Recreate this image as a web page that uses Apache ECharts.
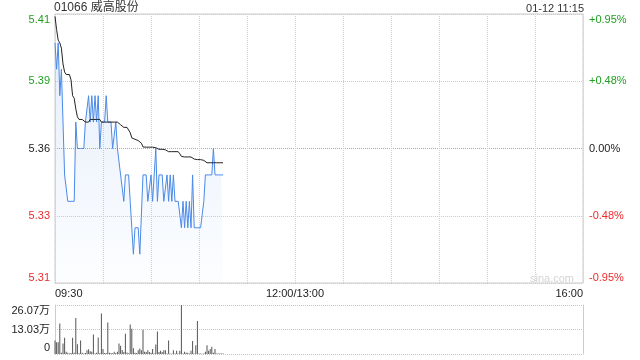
<!DOCTYPE html>
<html><head><meta charset="utf-8">
<script src="https://cdn.jsdelivr.net/npm/echarts@6/dist/echarts.min.js"></script>
<style>html,body{margin:0;padding:0;background:#fff}#c{width:640px;height:360px}</style>
</head><body><div id="c"></div>
<script>
const stockTitle = '01066 威高股份';
const timeStamp = '01-12 11:15';
const watermark = 'sina.com';
const prevClose = 5.36;

// one value per minute from 09:30
const prices = [
  5.40,5.39,5.40,5.38,5.39,5.37,5.35,5.35,5.34,5.34,
  5.34,5.34,5.34,5.37,5.36,5.36,5.36,5.36,5.36,5.37,
  5.37,5.38,5.37,5.38,5.37,5.38,5.37,5.38,5.36,5.37,
  5.37,5.37,5.38,5.37,5.37,5.37,5.36,5.36,5.37,5.36,
  5.36,5.35,5.35,5.34,5.35,5.35,5.35,5.34,5.33,5.32,
  5.33,5.33,5.33,5.32,5.32,5.35,5.35,5.35,5.34,5.34,
  5.35,5.34,5.35,5.36,5.34,5.35,5.35,5.35,5.34,5.34,
  5.35,5.34,5.35,5.34,5.35,5.34,5.34,5.34,5.34,5.33,
  5.34,5.33,5.34,5.33,5.34,5.33,5.35,5.33,5.33,5.33,
  5.33,5.33,5.33,5.34,5.35,5.35,5.35,5.35,5.35,5.36,
  5.35,5.35,5.35,5.35,5.35,5.35
];
const avgPrices = [
  5.410,5.405,5.401,5.400,5.398,5.392,5.389,5.388,5.388,5.388,
  5.386,5.380,5.379,5.375,5.372,5.371,5.371,5.371,5.371,5.370,
  5.370,5.370,5.371,5.371,5.371,5.371,5.371,5.371,5.371,5.370,
  5.370,5.370,5.370,5.370,5.370,5.370,5.370,5.370,5.370,5.370,
  5.370,5.369,5.3685,5.368,5.368,5.368,5.367,5.366,5.364,5.3635,
  5.3635,5.3635,5.363,5.3625,5.362,5.3606,5.3605,5.3605,5.3605,5.3605,
  5.3605,5.3605,5.3605,5.3603,5.360,5.3597,5.3597,5.3597,5.3597,5.3595,
  5.359,5.3588,5.3588,5.3588,5.3588,5.3588,5.3588,5.3588,5.358,5.357,
  5.3568,5.3568,5.3568,5.3568,5.3568,5.3568,5.3565,5.356,5.3558,5.3558,
  5.3558,5.3558,5.3558,5.3555,5.355,5.3546,5.3546,5.3546,5.3546,5.3546,
  5.3546,5.3546,5.3546,5.3546,5.3546,5.3546
];
const volumes = [
  72000,62000,62000,162000,7000,56000,86000,12000,6000,2000,
  5000,86000,6000,192000,52000,4000,72000,6000,2000,5000,
  20000,25000,14000,12000,104000,2000,6000,88000,4000,215000,
  26000,5000,5000,168000,7000,5000,4000,12000,5000,12000,
  56000,44000,21000,10000,108000,8000,4000,157000,135000,30000,
  6000,5000,20000,29000,20000,129000,12000,10000,20000,10000,
  6000,26000,3000,51000,120000,10000,17000,10000,20000,20000,
  3000,72000,3000,1000,20000,3000,17000,3000,17000,260700,
  3000,12000,6000,6000,3000,17000,69000,3000,46000,175000,
  3000,3000,1000,3000,12000,46000,17000,26000,38000,6000,
  26000,3000,3000,3000,3000,3000
];
const priceTickLabels = ['5.31','5.33','5.36','5.39','5.41'];
const pctTickLabels = ['-0.95%','-0.48%','0.00%','+0.48%','+0.95%'];
const volTickLabels = ['0','13.03万','26.07万'];
const volMax = 260700;
const xTickMinutes = [0, 150, 330];
const xTickLabels = ['09:30', '12:00/13:00', '16:00'];

const FONT = 'Arial, "Liberation Sans", "Noto Sans CJK SC", sans-serif';
const GREEN = '#1f9f1f', RED = '#ee2a2a', DARK = '#222';
const tickColors = [RED, RED, DARK, GREEN, GREEN];

const ctx = document.createElement('canvas').getContext('2d');
ctx.font = '11px Arial';
const wFirst = ctx.measureText(xTickLabels[0]).width;
const wLast = ctx.measureText(xTickLabels[2]).width;

const toBp = p => (p / prevClose - 1) * 10000;
const priceData = prices.map((p, i) => [i, toBp(p)]);
const avgData = avgPrices.map((p, i) => [i, toBp(p)]);
const volData = volumes.map((v, i) => [i, v]);

function yRich() {
  const r = {};
  tickColors.forEach((c, i) => {
    r['n' + i] = { color: c, fontSize: 11, fontFamily: FONT };
    r['t' + i] = { color: c, fontSize: 11, fontFamily: FONT, padding: [11, 0, 0, 0] };
    r['b' + i] = { color: c, fontSize: 11, fontFamily: FONT, padding: [0, 0, 11, 0] };
  });
  return r;
}
function yFmt(labels) {
  return function (v) {
    const i = Math.round((v + 95) / 47.5);
    const k = i === 4 ? 't' : (i === 0 ? 'b' : 'n');
    return '{' + k + i + '|' + labels[i] + '}';
  };
}

const chart = echarts.init(document.getElementById('c'), null, { renderer: 'canvas' });
chart.setOption({
  animation: false,
  backgroundColor: '#fff',
  textStyle: { fontFamily: FONT },
  title: [
    { text: stockTitle, left: 54, top: 2, padding: 0,
      textStyle: { fontSize: 12, fontWeight: 'normal', color: '#333', fontFamily: FONT } },
    { text: timeStamp, right: 56, top: 3, padding: 0,
      textStyle: { fontSize: 11, fontWeight: 'normal', color: '#333', fontFamily: FONT } }
  ],
  graphic: [
    { type: 'text', right: 66, top: 273, silent: true,
      style: { text: watermark, fill: '#d4d4d4', fontSize: 11, fontFamily: FONT } }
  ],
  grid: [
    { left: 55, right: 57, top: 14, height: 269, show: true, borderColor: '#ccc', borderWidth: 1 },
    { left: 55, right: 57, top: 305, height: 49 }
  ],
  xAxis: [
    { type: 'value', gridIndex: 0, min: 0, max: 330, interval: 30,
      axisLine: { show: false }, axisTick: { show: false },
      splitLine: { show: true, lineStyle: { color: '#d0d0d0', type: 'dotted', width: 1 } },
      axisLabel: {
        margin: 5, fontSize: 11, color: '#222', fontFamily: FONT,
        formatter: function (v) {
          const i = xTickMinutes.indexOf(v);
          if (i < 0) return '';
          if (i === 0) return '{l|' + xTickLabels[i] + '}';
          if (i === xTickLabels.length - 1) return '{r|' + xTickLabels[i] + '}';
          return '{m|' + xTickLabels[i] + '}';
        },
        rich: {
          l: { fontSize: 11, color: '#222', fontFamily: FONT, padding: [0, 0, 0, wFirst] },
          m: { fontSize: 11, color: '#222', fontFamily: FONT },
          r: { fontSize: 11, color: '#222', fontFamily: FONT, padding: [0, wLast, 0, 0] }
        }
      } },
    { type: 'value', gridIndex: 1, min: 0, max: 330, interval: 30,
      axisLine: { show: false }, axisTick: { show: false },
      splitLine: { show: false }, axisLabel: { show: false } }
  ],
  yAxis: [
    { type: 'value', gridIndex: 0, position: 'left', min: -95, max: 95, interval: 47.5,
      axisLine: { show: false }, axisTick: { show: false },
      splitLine: { show: true, lineStyle: { color: ['#ccc', '#ccc', '#aaa', '#ccc', '#ccc'], type: 'dotted', width: 1 } },
      axisLabel: { margin: 5, formatter: yFmt(priceTickLabels), rich: yRich() } },
    { type: 'value', gridIndex: 0, position: 'right', min: -95, max: 95, interval: 47.5,
      axisLine: { show: false }, axisTick: { show: false }, splitLine: { show: false },
      axisLabel: { margin: 6, formatter: yFmt(pctTickLabels), rich: yRich() } },
    { type: 'value', gridIndex: 1, position: 'left', min: 0, max: volMax, interval: volMax / 2,
      axisLine: { show: true, lineStyle: { color: '#ccc', width: 1 } }, axisTick: { show: false },
      splitLine: { show: true, lineStyle: { color: '#c4c4c4', type: 'dotted', width: 1 } },
      axisLabel: {
        margin: 5, fontSize: 11, color: '#222', fontFamily: FONT,
        formatter: function (v) {
          const i = Math.round(v / (volMax / 2));
          if (i === 2) return '{t|' + volTickLabels[i] + '}';
          if (i === 0) return '{b|' + volTickLabels[i] + '}';
          return '{n|' + volTickLabels[i] + '}';
        },
        rich: {
          t: { fontSize: 11, color: '#222', fontFamily: FONT, padding: [12, 0, 0, 0] },
          n: { fontSize: 11, color: '#222', fontFamily: FONT },
          b: { fontSize: 11, color: '#222', fontFamily: FONT, padding: [0, 0, 12, 0] }
        }
      } },
    { type: 'value', gridIndex: 1, position: 'right', min: 0, max: volMax, interval: volMax / 2,
      axisLine: { show: true, lineStyle: { color: '#ccc', width: 1 } }, axisTick: { show: false },
      splitLine: { show: false }, axisLabel: { show: false } }
  ],
  series: [
    { name: 'price', type: 'line', xAxisIndex: 0, yAxisIndex: 0, data: priceData,
      showSymbol: false, symbol: 'none', silent: true,
      lineStyle: { color: '#4a8ae8', width: 1 },
      areaStyle: { origin: 'start', color: new echarts.graphic.LinearGradient(0, 0, 0, 1, [
        { offset: 0, color: 'rgba(74,138,232,0.20)' },
        { offset: 1, color: 'rgba(74,138,232,0.02)' }
      ]) } },
    { name: 'avg', type: 'line', xAxisIndex: 0, yAxisIndex: 0, data: avgData,
      showSymbol: false, symbol: 'none', silent: true,
      lineStyle: { color: '#222', width: 1 } },
    { name: 'volume', type: 'bar', xAxisIndex: 1, yAxisIndex: 2, data: volData,
      barWidth: 1, silent: true, itemStyle: { color: '#555' } }
  ]
});
</script>
</body></html>
